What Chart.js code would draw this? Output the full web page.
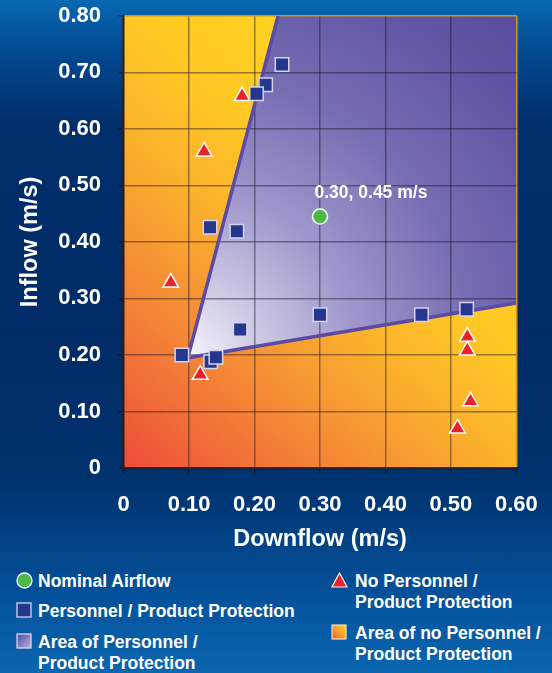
<!DOCTYPE html>
<html><head><meta charset="utf-8">
<script src="https://cdn.jsdelivr.net/npm/chart.js@4"></script>
<style>
html,body{margin:0;padding:0;}
body{width:552px;height:673px;overflow:hidden;position:relative;
background:linear-gradient(to bottom,#0868b2 0%,#03488f 8%,#012f6c 18%,#002b66 50%,#00336f 72%,#04509a 88%,#0a66af 100%);
font-family:'Liberation Sans',Arial,sans-serif;}
#wrap{position:absolute;left:0;top:0;width:552px;height:560px;}
.lg{position:absolute;color:#fff;font-weight:bold;font-size:17.5px;line-height:21px;white-space:nowrap;}
.ic{position:absolute;display:block;}
</style></head><body>
<div id="wrap"><canvas id="c" width="552" height="560"></canvas></div>

<svg class="ic" style="left:16px;top:572px" width="17" height="17"><circle cx="8.5" cy="8.5" r="7.5" fill="#4cb848" stroke="#fff" stroke-width="1.3"/></svg>
<div class="lg" style="left:38px;top:571px">Nominal Airflow</div>

<svg class="ic" style="left:16px;top:602px" width="16" height="16"><rect x="1" y="1" width="14" height="14" fill="#24368e" stroke="#d4d4ec" stroke-width="1.3"/></svg>
<div class="lg" style="left:38px;top:601px">Personnel / Product Protection</div>

<svg class="ic" style="left:16px;top:633px" width="16" height="16"><defs><linearGradient id="pg" x1="0" y1="0" x2="1" y2="1"><stop offset="0" stop-color="#4f4a9e"/><stop offset="1" stop-color="#b6b2dc"/></linearGradient></defs><rect x="1" y="1" width="14" height="14" fill="url(#pg)" stroke="#d4d4ec" stroke-width="1.3"/></svg>
<div class="lg" style="left:38px;top:632px">Area of Personnel /<br>Product Protection</div>

<svg class="ic" style="left:331px;top:572px" width="17" height="16"><polygon points="8.5,1 16,15 1,15" fill="#e8212c" stroke="#fff" stroke-width="1.2"/></svg>
<div class="lg" style="left:355px;top:571px">No Personnel /<br>Product Protection</div>

<svg class="ic" style="left:331px;top:624px" width="16" height="16"><defs><linearGradient id="og" x1="0" y1="1" x2="1" y2="0"><stop offset="0" stop-color="#ee5a36"/><stop offset="0.5" stop-color="#f8a030"/><stop offset="1" stop-color="#ffd020"/></linearGradient></defs><rect x="1" y="1" width="14" height="14" fill="url(#og)" stroke="#f0e0c0" stroke-width="1.2"/></svg>
<div class="lg" style="left:355px;top:623px">Area of no Personnel /<br>Product Protection</div>

<script>
// ---- data ----
const xAxisRange = [0, 0.6];
const yAxisRange = [0, 0.8];
const tickStep = 0.1;
const xTitle = 'Downflow (m/s)';
const yTitle = 'Inflow (m/s)';

const nominalX = [0.30];
const nominalY = [0.445];
const nominalNote = '0.30, 0.45 m/s';

const protX = [0.242, 0.217, 0.203, 0.132, 0.173, 0.300, 0.455, 0.524, 0.178, 0.089, 0.133, 0.141];
const protY = [0.714, 0.678, 0.662, 0.426, 0.419, 0.271, 0.271, 0.281, 0.245, 0.200, 0.188, 0.196];

const noProtX = [0.181, 0.123, 0.072, 0.525, 0.525, 0.117, 0.530, 0.510];
const noProtY = [0.658, 0.560, 0.328, 0.232, 0.208, 0.165, 0.118, 0.070];

// boundary of the protection area: top edge, vertex, right edge, then top-right corner
const regionX = [0.236, 0.098, 0.60, 0.60];
const regionY = [0.80, 0.195, 0.292, 0.80];

// ---- helpers ----
const toPts = (xs, ys) => xs.map((x, i) => ({x: x, y: ys[i]}));
const corners = toPts([xAxisRange[0], xAxisRange[1], xAxisRange[1], xAxisRange[0]],
                      [yAxisRange[0], yAxisRange[0], yAxisRange[1], yAxisRange[1]]);
const fmt = v => Math.abs(v) < 1e-9 ? '0' : v.toFixed(2);

function orangeGrad(c) {
  const ch = c.chart, a = ch.chartArea;
  if (!a) return '#f8a030';
  const g = ch.ctx.createLinearGradient(a.left, a.bottom, a.right, a.top);
  g.addColorStop(0, '#ec4c38');
  g.addColorStop(0.15, '#f27338');
  g.addColorStop(0.3, '#f69634');
  g.addColorStop(0.43, '#fbb22c');
  g.addColorStop(0.57, '#ffc824');
  g.addColorStop(0.8, '#ffd51f');
  g.addColorStop(1, '#ffdb1c');
  return g;
}
function purpleGrad(c) {
  const ch = c.chart, a = ch.chartArea;
  if (!a || !ch.scales.x) return '#8a80c0';
  const vx = ch.scales.x.getPixelForValue(regionX[1]);
  const vy = ch.scales.y.getPixelForValue(regionY[1]);
  const r = Math.hypot(a.right - vx, a.top - vy);
  const g = ch.ctx.createRadialGradient(vx, vy, 0, vx, vy, r);
  g.addColorStop(0, '#f6f4fb');
  g.addColorStop(0.15, '#cfcae4');
  g.addColorStop(0.35, '#a098cc');
  g.addColorStop(0.6, '#776db3');
  g.addColorStop(0.85, '#6155a4');
  g.addColorStop(1, '#584c9c');
  return g;
}

const tickFont = {family: "'Liberation Sans',Arial,sans-serif", weight: 'bold', size: 22};
const titleFont = {family: "'Liberation Sans',Arial,sans-serif", weight: 'bold', size: 23.5};
const gridColor = (top) => (c) => (c.tick && Math.abs(c.tick.value - top) < 1e-6) ? '#c99a1e' : 'rgba(25,20,40,0.45)';

const notePlugin = {
  id: 'note',
  afterDatasetsDraw(chart) {
    const m = chart.getDatasetMeta(0).data[0];
    if (!m) return;
    const ctx = chart.ctx;
    ctx.save();
    ctx.font = "bold 17.5px 'Liberation Sans', Arial, sans-serif";
    ctx.fillStyle = '#ffffff';
    ctx.textAlign = 'left';
    ctx.textBaseline = 'middle';
    ctx.fillText(nominalNote, m.x - 5.5, m.y - 23);
    ctx.restore();
  }
};

new Chart(document.getElementById('c'), {
  type: 'scatter',
  data: {
    datasets: [
      {label: 'Nominal Airflow', data: toPts(nominalX, nominalY), pointStyle: 'circle', pointRadius: 7.5, pointHoverRadius: 7.5,
       pointBackgroundColor: '#4cb848', pointBorderColor: '#ffffff', pointBorderWidth: 1.5},
      {label: 'Personnel / Product Protection', data: toPts(protX, protY), pointStyle: 'rect', pointRadius: 9.5, pointHoverRadius: 9.5,
       pointBackgroundColor: '#24368e', pointBorderColor: '#d4d4ec', pointBorderWidth: 1.5},
      {label: 'No Personnel / Product Protection', data: toPts(noProtX, noProtY), pointStyle: 'triangle', pointRadius: 9, pointHoverRadius: 9,
       pointBackgroundColor: '#e8212c', pointBorderColor: '#ffffff', pointBorderWidth: 1.5},
      {label: 'Protection boundary', data: toPts(regionX.slice(0, 3), regionY.slice(0, 3)), showLine: true, fill: false,
       borderColor: '#5b4aa6', borderWidth: 3.5, pointRadius: 0, pointHoverRadius: 0},
      {label: 'Area of Personnel / Product Protection', data: toPts(regionX, regionY), showLine: true, fill: 'shape',
       backgroundColor: purpleGrad, borderWidth: 0, borderColor: 'rgba(0,0,0,0)', pointRadius: 0, pointHoverRadius: 0},
      {label: 'Area of no Personnel / Product Protection', data: corners, showLine: true, fill: 'shape',
       backgroundColor: orangeGrad, borderWidth: 0, borderColor: 'rgba(0,0,0,0)', pointRadius: 0, pointHoverRadius: 0}
    ]
  },
  options: {
    responsive: false,
    animation: false,
    layout: {padding: {left: 0, top: 15.8, right: 35.6, bottom: 0}},
    plugins: {legend: {display: false}, tooltip: {enabled: false}, filler: {drawTime: 'beforeDraw'}},
    scales: {
      x: {
        type: 'linear', min: xAxisRange[0], max: xAxisRange[1],
        ticks: {stepSize: tickStep, callback: v => fmt(v), color: '#ffffff', font: tickFont, padding: 19, maxRotation: 0, autoSkip: false},
        grid: {color: gridColor(xAxisRange[1]), lineWidth: 1.5, tickLength: 5, tickColor: 'rgba(0,0,0,0.45)'},
        border: {color: 'rgba(45,25,20,0.7)', width: 2.5},
        title: {display: true, text: xTitle, color: '#ffffff', font: titleFont, padding: {top: 0, bottom: 6}},
        afterFit: s => { s.height = 92; s.paddingLeft = 0; s.paddingRight = 0; s.paddingTop = 0; s.paddingBottom = 0; }
      },
      y: {
        type: 'linear', min: yAxisRange[0], max: yAxisRange[1],
        ticks: {stepSize: tickStep, callback: v => fmt(v), color: '#ffffff', font: tickFont, padding: 17.6, autoSkip: false},
        grid: {color: gridColor(yAxisRange[1]), lineWidth: 1.5, tickLength: 5, tickColor: 'rgba(0,0,0,0.45)'},
        border: {color: 'rgba(45,25,20,0.7)', width: 2.5},
        title: {display: true, text: yTitle, color: '#ffffff', font: titleFont, padding: {top: 16.4, bottom: 0}},
        afterFit: s => { s.width = 123.6; s.paddingLeft = 0; s.paddingRight = 0; s.paddingTop = 0; s.paddingBottom = 0; }
      }
    }
  },
  plugins: [notePlugin]
});
</script>
</body></html>
